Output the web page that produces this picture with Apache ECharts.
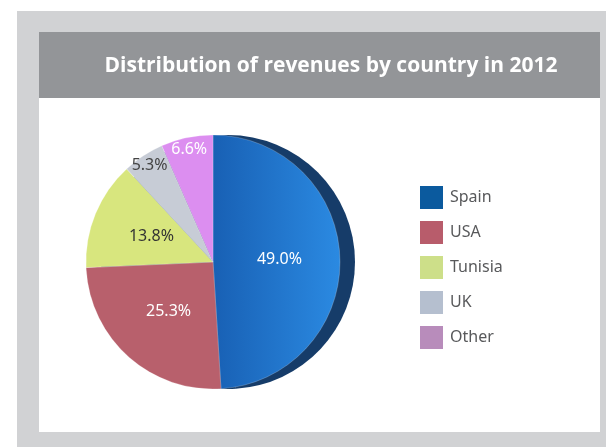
<!DOCTYPE html>
<html>
<head>
<meta charset="utf-8">
<script src="https://cdn.jsdelivr.net/npm/echarts@6/dist/echarts.min.js"></script>
<style>
  html, body { margin: 0; padding: 0; background: #ffffff; }
  #chart { width: 606px; height: 447px; }
</style>
</head>
<body>
<div id="chart"></div>
<script>
const countries = ["Spain", "USA", "Tunisia", "UK", "Other"];
const shares = [49.0, 25.3, 13.8, 5.3, 6.6];
const sliceColors = ["#1c68bd", "#b8606c", "#d8e67e", "#c7ccd6", "#dc8ef0"];
const legendColors = ["#0b5a9e", "#b85c6b", "#cddf89", "#b5bfcf", "#b88cbb"];
const labelColors = ["#ffffff", "#ffffff", "#333333", "#444444", "#ffffff"];
// small slices get their label near the rim
const rimLabel = [false, false, false, true, true];

const chart = echarts.init(document.getElementById("chart"));
const font = "'Noto Sans', 'Lato', sans-serif";

const spainFace = new echarts.graphic.LinearGradient(0, 0, 1, 0, [
  { offset: 0, color: "#1860b4" },
  { offset: 1, color: "#2b8ae2" }
]);

const option = {
  animation: false,
  graphic: [
    { type: "rect", shape: { x: 17, y: 11, width: 589, height: 436 }, style: { fill: "#d1d2d4" }, z: -10 },
    { type: "rect", shape: { x: 39, y: 32, width: 561, height: 400 }, style: { fill: "#ffffff" }, z: -9 },
    { type: "rect", shape: { x: 39, y: 32, width: 561, height: 66 }, style: { fill: "#939598" }, z: -8 }
  ],
  title: {
    text: "Distribution of revenues by country in 2012",
    left: 326,
    textAlign: "center",
    top: 51,
    textStyle: { color: "#ffffff", fontSize: 21, fontWeight: "bold", fontFamily: "'Open Sans', sans-serif" }
  },
  legend: {
    orient: "vertical",
    left: 415,
    top: 181,
    itemWidth: 23,
    itemHeight: 23,
    itemGap: 12,
    icon: "rect",
    textStyle: { color: "#58595b", fontSize: 16, fontFamily: font, padding: [0, 0, 0, 2] },
    data: countries.map((c, i) => ({ name: c, itemStyle: { color: legendColors[i] } }))
  },
  series: [
    {
      // dark side of the tilted pie
      type: "pie",
      center: [228, 262],
      radius: 127,
      startAngle: 90,
      silent: true,
      label: { show: false },
      labelLine: { show: false },
      itemStyle: { color: "#163c69" },
      emphasis: { disabled: true },
      data: countries.map((c, i) => ({ name: c, value: shares[i] })),
      z: 1
    },
    {
      type: "pie",
      center: [213, 262],
      radius: 127,
      startAngle: 90,
      avoidLabelOverlap: false,
      emphasis: { disabled: true },
      itemStyle: { borderColor: "rgba(255,255,255,0.35)", borderWidth: 0.6 },
      label: {
        position: "inside",
        fontSize: 16,
        fontFamily: font,
        formatter: p => p.value.toFixed(1) + "%"
      },
      labelLine: { show: false },
      data: countries.map((c, i) => ({
        name: c,
        value: shares[i],
        itemStyle: { color: i === 0 ? spainFace : sliceColors[i] },
        label: { show: !rimLabel[i], color: labelColors[i] }
      })),
      z: 2
    },
    {
      // transparent ring that places the small slice labels near the rim
      type: "pie",
      center: [213, 262],
      radius: [98, 127],
      startAngle: 90,
      silent: true,
      avoidLabelOverlap: false,
      emphasis: { disabled: true },
      itemStyle: { color: "rgba(0,0,0,0)" },
      label: {
        position: "inside",
        fontSize: 16,
        fontFamily: font,
        formatter: p => p.value.toFixed(1) + "%"
      },
      labelLine: { show: false },
      data: countries.map((c, i) => ({
        name: c,
        value: shares[i],
        label: { show: rimLabel[i], color: labelColors[i] }
      })),
      z: 3
    }
  ]
};

chart.setOption(option);
</script>
</body>
</html>
